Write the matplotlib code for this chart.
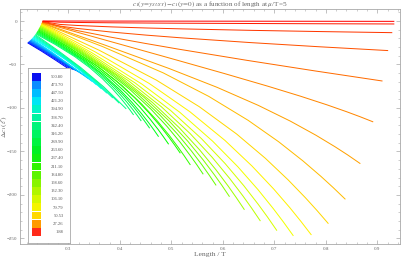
import matplotlib
matplotlib.use("Agg")
import matplotlib.pyplot as plt
from matplotlib.ticker import MultipleLocator, FuncFormatter
from matplotlib.patches import Rectangle
from matplotlib.colors import hsv_to_rgb

# ---------------- data ----------------
legend_values = [500.80, 473.70, 447.50, 421.20, 394.90, 368.70, 342.40, 316.20,
                 289.90, 263.60, 237.40, 211.10, 184.80, 158.60, 132.30, 106.10,
                 79.79, 50.53, 27.26, 1.88]

curve_L = [
    [0.250, 0.420, 0.590, 0.760, 0.933],
    [0.2500, 0.2842, 0.3183, 0.3866, 0.4549, 0.5232, 0.6598, 0.7964, 0.933],
    [0.2498, 0.2838, 0.3177, 0.3856, 0.4536, 0.5215, 0.6573, 0.7932, 0.929],
    [0.2496, 0.2832, 0.3167, 0.3839, 0.4510, 0.5182, 0.6524, 0.7867, 0.921],
    [0.2494, 0.3155, 0.3815, 0.4476, 0.5136, 0.6458, 0.7779, 0.910],
    [0.2490, 0.3776, 0.5062, 0.6027, 0.6862, 0.7505, 0.8020, 0.8406, 0.8663, 0.892],
    [0.2487, 0.3724, 0.4960, 0.5888, 0.6691, 0.7310, 0.7804, 0.8175, 0.8423, 0.867],
    [0.2483, 0.3662, 0.4842, 0.5726, 0.6493, 0.7083, 0.7554, 0.7908, 0.8144, 0.838],
    [0.2480, 0.3594, 0.4708, 0.5544, 0.6268, 0.6825, 0.7270, 0.7604, 0.7827, 0.805],
    [0.2476, 0.3525, 0.4574, 0.5360, 0.6042, 0.6566, 0.6986, 0.7301, 0.7510, 0.772],
    [0.2471, 0.3451, 0.4431, 0.5166, 0.5802, 0.6292, 0.6684, 0.6978, 0.7174, 0.737],
    [0.2466, 0.3383, 0.4300, 0.4987, 0.5583, 0.6042, 0.6408, 0.6683, 0.6867, 0.705],
    [0.2460, 0.3314, 0.4168, 0.4809, 0.5364, 0.5791, 0.6132, 0.6388, 0.6559, 0.673],
    [0.2454, 0.3247, 0.4040, 0.4635, 0.5151, 0.5548, 0.5865, 0.6103, 0.6261, 0.642],
    [0.2447, 0.3184, 0.3920, 0.4473, 0.4951, 0.5320, 0.5614, 0.5835, 0.5983, 0.613],
    [0.2440, 0.3126, 0.3812, 0.4327, 0.4772, 0.5115, 0.5390, 0.5596, 0.5733, 0.587],
    [0.2432, 0.3070, 0.3707, 0.4185, 0.4600, 0.4919, 0.5174, 0.5365, 0.5493, 0.562],
    [0.2424, 0.3013, 0.3602, 0.4044, 0.4427, 0.4722, 0.4958, 0.5134, 0.5252, 0.537],
    [0.2416, 0.2968, 0.3520, 0.3934, 0.4292, 0.4568, 0.4789, 0.4954, 0.5065, 0.5175],
    [0.2407, 0.2915, 0.3423, 0.3805, 0.4135, 0.4389, 0.4592, 0.4745, 0.4846, 0.4948],
    [0.2398, 0.2869, 0.3340, 0.3693, 0.3999, 0.4235, 0.4423, 0.4565, 0.4659, 0.4753],
    [0.2388, 0.2826, 0.3265, 0.3594, 0.3879, 0.4098, 0.4273, 0.4405, 0.4492, 0.458],
    [0.2378, 0.2786, 0.3194, 0.3500, 0.3765, 0.3968, 0.4132, 0.4254, 0.4335, 0.4417],
    [0.2368, 0.2748, 0.3128, 0.3413, 0.3660, 0.3850, 0.4002, 0.4116, 0.4192, 0.4268],
    [0.2357, 0.2799, 0.3241, 0.3683, 0.4125],
    [0.2346, 0.2757, 0.3168, 0.3579, 0.399],
    [0.2335, 0.2718, 0.3100, 0.3483, 0.3865],
    [0.2324, 0.2681, 0.3037, 0.3394, 0.375],
    [0.2313, 0.2646, 0.2979, 0.3312, 0.3645],
    [0.2302, 0.2614, 0.2926, 0.3238, 0.355],
    [0.2291, 0.2682, 0.3074, 0.3465],
    [0.2280, 0.2649, 0.3018, 0.3387],
    [0.2269, 0.2618, 0.2968, 0.3317],
    [0.2258, 0.2590, 0.2922, 0.3254],
    [0.2247, 0.2564, 0.2880, 0.3197],
    [0.2237, 0.2540, 0.2843, 0.3146],
    [0.2227, 0.2518, 0.2809, 0.3100],
    [0.2218, 0.2498, 0.2778, 0.3058],
    [0.2209, 0.2479, 0.2750, 0.3020],
]

curve_dc = [
    [0.0, -0.1, -0.2, -0.3, -0.4],
    [-0.3, -1.39, -1.68, -2.06, -2.33, -2.55, -2.89, -3.17, -3.4],
    [-0.6, -3.92, -5.14, -6.80, -8.05, -9.07, -10.77, -12.18, -13.4],
    [-0.9, -5.77, -8.48, -12.72, -16.22, -19.31, -24.77, -29.59, -34.0],
    [-1.2, -10.78, -18.46, -25.57, -32.31, -45.12, -57.29, -69.0],
    [-1.6, -22.88, -44.19, -60.34, -74.74, -86.39, -96.34, -104.34, -110.00, -116.0],
    [-2.0, -27.97, -54.67, -76.24, -97.06, -115.08, -131.18, -144.44, -153.93, -164.0],
    [-2.4, -29.31, -59.61, -86.63, -114.24, -138.77, -160.76, -178.77, -191.56, -205.0],
    [-2.9, -33.46, -67.88, -98.56, -129.92, -157.78, -182.76, -203.21, -217.73, -233.0],
    [-3.4, -35.62, -71.91, -104.26, -137.32, -166.70, -193.03, -214.60, -229.90, -246.0],
    [-4.0, -36.27, -72.62, -105.02, -138.15, -167.57, -193.94, -215.54, -230.88, -247.0],
    [-4.6, -35.99, -71.36, -102.88, -135.10, -163.72, -189.38, -210.40, -225.31, -241.0],
    [-5.3, -35.14, -68.76, -98.72, -129.34, -156.55, -180.93, -200.91, -215.09, -230.0],
    [-6.0, -34.02, -65.59, -93.72, -122.48, -148.03, -170.93, -189.69, -203.00, -217.0],
    [-6.8, -32.72, -61.92, -87.95, -114.56, -138.19, -159.38, -176.73, -189.05, -202.0],
    [-7.6, -31.69, -58.83, -83.02, -107.74, -129.70, -149.39, -165.52, -176.96, -189.0],
    [-8.4, -30.68, -55.79, -78.16, -101.03, -121.35, -139.56, -154.48, -165.07, -176.2],
    [-9.3, -30.04, -53.41, -74.24, -95.53, -114.44, -131.39, -145.28, -155.14, -165.5],
    [-10.2, -29.03, -50.24, -69.15, -88.48, -105.65, -121.04, -133.64, -142.59, -152.0],
    [-11.1, -28.44, -47.98, -65.40, -83.20, -99.01, -113.18, -124.79, -133.03, -141.7],
    [-12.0, -28.07, -46.17, -62.30, -78.80, -93.45, -106.58, -117.34, -124.97, -133.0],
    [-12.9, -27.56, -44.08, -58.80, -73.85, -87.21, -99.19, -109.01, -115.97, -123.3],
    [-13.8, -27.24, -42.38, -55.87, -69.67, -81.92, -92.90, -101.90, -108.29, -115.0],
    [-14.7, -27.09, -41.05, -53.49, -66.20, -77.50, -87.63, -95.92, -101.81, -108.0],
    [-15.6, -33.94, -53.50, -75.45, -101.0],
    [-16.5, -33.25, -51.12, -71.16, -94.5],
    [-17.3, -32.59, -48.90, -67.20, -88.5],
    [-18.1, -32.04, -46.90, -63.58, -83.0],
    [-18.9, -31.59, -45.13, -60.32, -78.0],
    [-19.7, -31.26, -43.58, -57.40, -73.5],
    [-20.4, -35.89, -52.48, -69.5],
    [-21.1, -35.27, -50.43, -66.0],
    [-21.8, -34.80, -48.72, -63.0],
    [-22.4, -34.42, -47.29, -60.5],
    [-23.0, -34.20, -46.19, -58.5],
    [-23.5, -34.07, -45.39, -57.0],
    [-24.0, -34.10, -44.91, -56.0],
    [-24.5, -34.28, -44.75, -55.5],
    [-25.0, -34.62, -44.93, -55.5],
]

# ---------------- styles ----------------
legend_colors = ["#0a10f0", "#0a8cff", "#00bcff", "#00e6f4", "#00f4c8", "#00f4a0",
                 "#00f47c", "#00f460", "#00f440", "#00f024", "#10f010", "#30f400",
                 "#5cf400", "#88f400", "#b0f600", "#d4f800", "#f4f400", "#ffd800",
                 "#ff9a00", "#ff2a1a"]

plt.rcParams["font.family"] = ["Liberation Serif", "DejaVu Serif"]
plt.rcParams["mathtext.fontset"] = "stix"

W, H = 402, 262
fig = plt.figure(figsize=(W / 100, H / 100), dpi=100)
ax = fig.add_axes([20 / W, 1 - 244.3 / H, 380 / W, (244.3 - 9) / H])

n = len(curve_L)
for k in range(n - 1, -1, -1):
    hue = (2.0 / 3.0) * k / (n - 1)
    col = hsv_to_rgb((hue, 1.0, 1.0))
    ax.plot(curve_L[k], curve_dc[k], color=col, lw=0.72, solid_capstyle="butt",
            solid_joinstyle="round")

ax.set_xlim(0.2062, 0.944)
ax.set_ylim(-256.7, 13.8)

ax.xaxis.set_major_locator(MultipleLocator(0.1))
ax.xaxis.set_minor_locator(MultipleLocator(0.02))
ax.yaxis.set_major_locator(MultipleLocator(50))
ax.yaxis.set_minor_locator(MultipleLocator(10))
ax.xaxis.set_major_formatter(FuncFormatter(lambda v, p: f"{v:.1f}"))
ax.yaxis.set_major_formatter(FuncFormatter(lambda v, p: f"{int(round(v))}".replace("-", "\u2212")))

frame_col = "#a8a8a8"
for s in ax.spines.values():
    s.set_color(frame_col)
    s.set_linewidth(0.6)
ax.tick_params(which="both", direction="in", top=True, right=True, color=frame_col,
               labelcolor="#666666", labelsize=3.6, pad=2.0)
ax.tick_params(which="major", length=3.2, width=0.5)
ax.tick_params(which="minor", length=1.6, width=0.4)

ax.set_title(r"$c_1(y\!=\!y_{SUSY})\!-\!c_1(y\!=\!0)$ as a function of length at $\mu$/T=5",
             fontsize=5.1, color="#666666", pad=1.2)
ax.set_xlabel("Length / T", fontsize=5.4, color="#666666", labelpad=1.0)
ax.set_ylabel(r"$\Delta c_1(\ell)$", fontsize=5.4, color="#666666")
ax.yaxis.set_label_coords(-0.03, 0.5)

# ---------------- legend box ----------------
lax = fig.add_axes([28 / W, 1 - 243 / H, 42 / W, 175 / H])
lax.set_xlim(0, 42)
lax.set_ylim(175, 0)
lax.set_xticks([])
lax.set_yticks([])
lax.set_facecolor("white")
for s in lax.spines.values():
    s.set_color(frame_col)
    s.set_linewidth(0.6)
pitch = 8.17
for i, (val, col) in enumerate(zip(legend_values, legend_colors)):
    y0 = 4.7 + pitch * i
    lax.add_patch(Rectangle((4.3, y0), 8.7, pitch - 0.3, color=col, lw=0))
    lax.text(35.5, y0 + pitch / 2, f"{val:.2f}", ha="right", va="center",
             fontsize=3.3, color="#555555")

fig.savefig("out.png", dpi=100)
